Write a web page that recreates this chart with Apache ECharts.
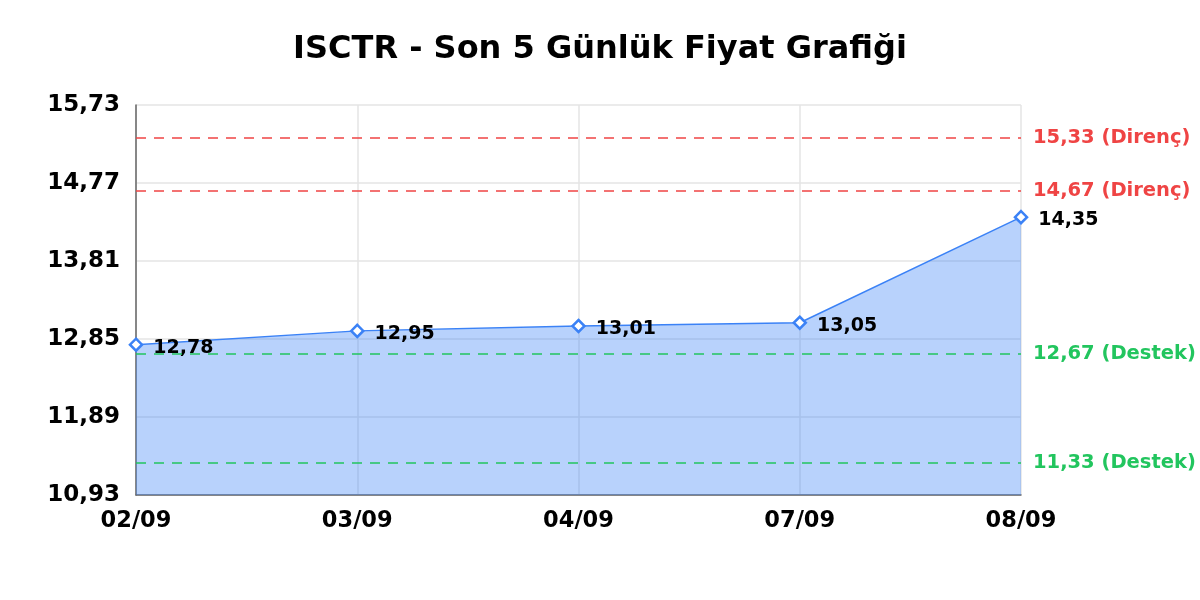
<!DOCTYPE html>
<html>
<head>
<meta charset="utf-8">
<script src="https://cdn.jsdelivr.net/npm/echarts@6/dist/echarts.min.js"></script>
<style>
  html, body { margin: 0; padding: 0; background: #fff; }
  #chart { width: 1200px; height: 600px; }
</style>
</head>
<body>
<div id="chart"></div>
<script>
// Son 5 gün kapanış fiyatları
const dates = ['02/09', '03/09', '04/09', '07/09', '08/09'];
const prices = [12.78, 12.95, 13.01, 13.05, 14.35];

// eksen değerleri
const yTicks = [10.93, 11.89, 12.85, 13.81, 14.77, 15.73];

// destek / direnç seviyeleri
const resistance = [15.33, 14.67];
const support = [12.67, 11.33];

const fmt = v => v.toFixed(2).replace('.', ',');
const FONT = 'DejaVu Sans';

const chart = echarts.init(document.getElementById('chart'), null, { renderer: 'canvas' });

const levelLine = (v, label, color) => ({
  yAxis: v,
  lineStyle: { color, type: [10, 8], width: 1.5 },
  label: {
    formatter: fmt(v) + ' (' + label + ')',
    position: 'end',
    distance: 12,
    color,
    fontFamily: FONT,
    fontWeight: 'bold',
    fontSize: 19.5
  }
});

const option = {
  backgroundColor: '#fff',
  animation: false,
  title: {
    text: 'ISCTR - Son 5 Günlük Fiyat Grafiği',
    left: 'center',
    top: 29,
    textStyle: { fontFamily: FONT, fontWeight: 'bold', fontSize: 32, color: '#000' }
  },
  grid: { left: 136, right: 179, top: 105, bottom: 105 },
  xAxis: {
    type: 'category',
    boundaryGap: false,
    data: dates,
    axisLine: { lineStyle: { color: '#666', width: 1.5 } },
    axisTick: { show: false },
    axisLabel: { color: '#000', fontFamily: FONT, fontWeight: 'bold', fontSize: 22.5, margin: 15 },
    splitLine: { show: true, lineStyle: { color: '#e4e4e4', width: 1.5 } }
  },
  yAxis: {
    type: 'value',
    min: yTicks[0],
    max: yTicks[yTicks.length - 1],
    axisLine: { show: true, lineStyle: { color: '#666', width: 1.5 } },
    axisTick: { show: false, customValues: yTicks },
    axisLabel: {
      customValues: yTicks,
      formatter: fmt,
      padding: [4, 0, 0, 0],
      color: '#000', fontFamily: FONT, fontWeight: 'bold', fontSize: 23, margin: 16
    },
    splitLine: { show: true, lineStyle: { color: '#e4e4e4', width: 1.5 } }
  },
  series: [{
    type: 'line',
    data: prices,
    symbol: 'diamond',
    symbolSize: 12,
    itemStyle: { color: '#fff', borderColor: '#3b82f6', borderWidth: 2.5 },
    lineStyle: { color: '#3b82f6', width: 1.5 },
    areaStyle: { color: '#3b82f6', opacity: 0.36 },
    label: {
      show: true,
      position: 'right',
      distance: 10,
      offset: [0, 3],
      formatter: p => fmt(p.value),
      color: '#000', fontFamily: FONT, fontWeight: 'bold', fontSize: 19
    },
    markLine: {
      silent: true,
      symbol: 'none',
      data: [
        ...resistance.map(v => levelLine(v, 'Direnç', '#ef4444')),
        ...support.map(v => levelLine(v, 'Destek', '#22c55e'))
      ]
    }
  }]
};

chart.setOption(option);
</script>
</body>
</html>
